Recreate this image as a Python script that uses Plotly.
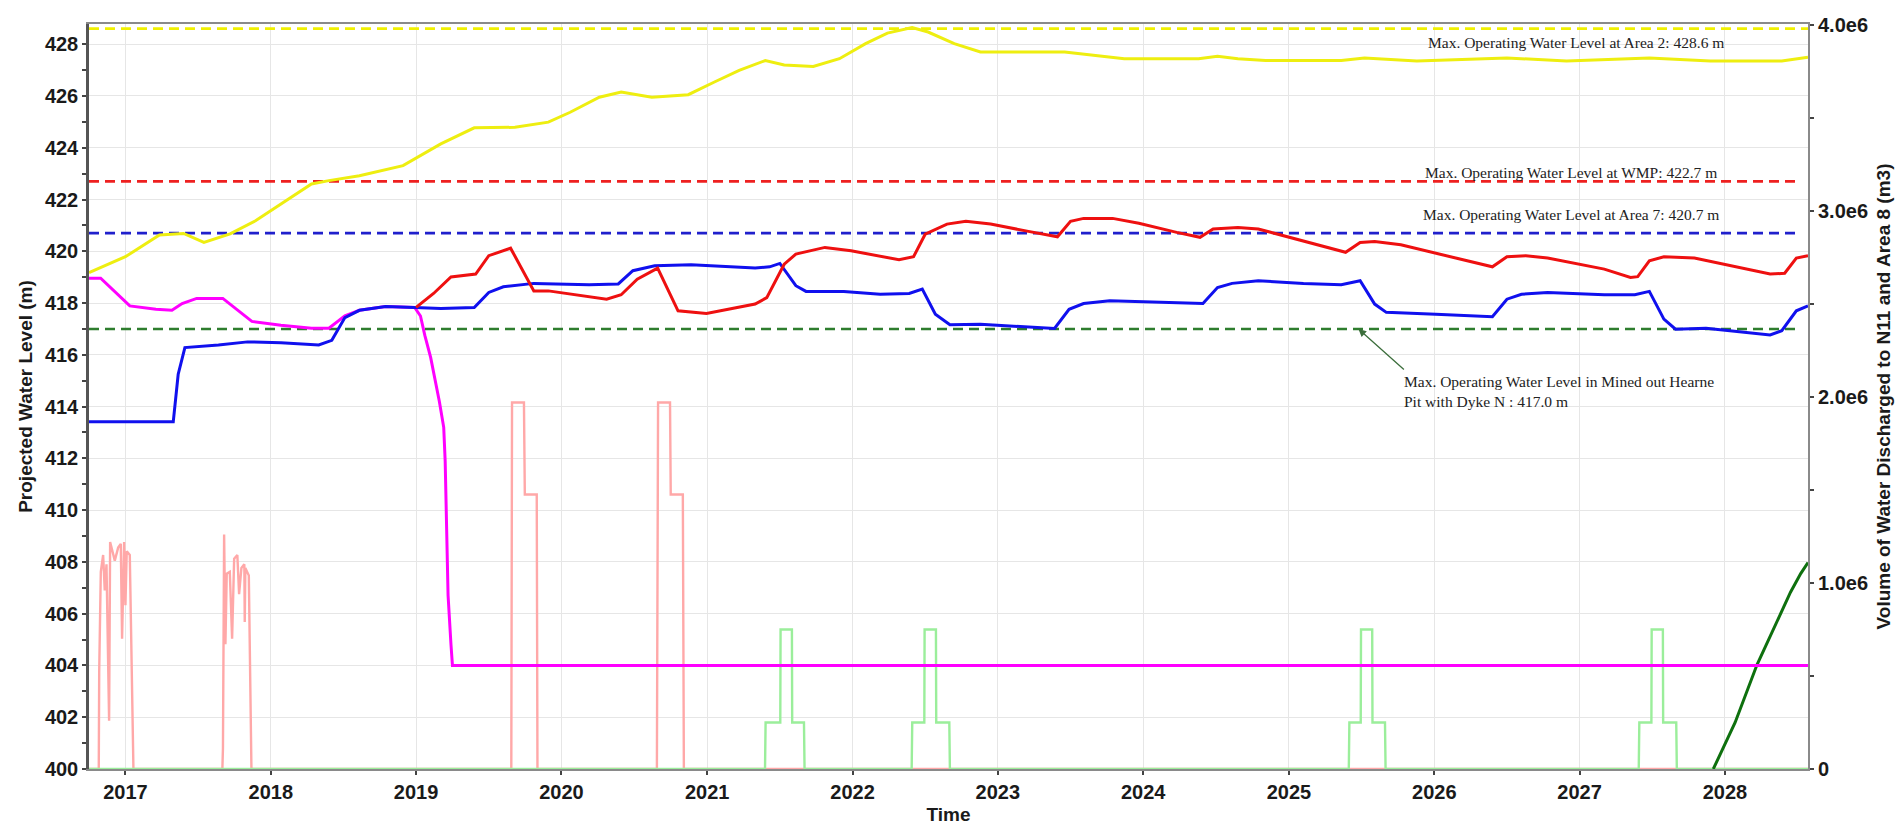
import plotly.graph_objects as go
import pandas as pd

# ---------------- data (x in decimal years) ----------------
yellow_t = [2016.75, 2016.878, 2017.0, 2017.234, 2017.40, 2017.54, 2017.72, 2017.895, 2018.07, 2018.28,
            2018.40, 2018.61, 2018.91, 2019.17, 2019.40, 2019.68, 2019.91, 2020.06, 2020.26, 2020.41,
            2020.62, 2020.87, 2021.05, 2021.22, 2021.40, 2021.53, 2021.73, 2021.91, 2022.09, 2022.24,
            2022.41, 2022.52, 2022.70, 2022.88, 2023.46, 2023.87, 2024.38, 2024.51, 2024.65, 2024.84,
            2025.36, 2025.52, 2025.88, 2026.50, 2026.91, 2027.48, 2027.90, 2028.39, 2028.57]
yellow_v = [419.18, 419.50, 419.79, 420.63, 420.69, 420.34, 420.67, 421.18, 421.83, 422.60,
            422.73, 422.92, 423.31, 424.15, 424.77, 424.79, 424.99, 425.37, 425.95, 426.15,
            425.95, 426.05, 426.54, 426.99, 427.37, 427.20, 427.14, 427.44, 428.02, 428.43,
            428.64, 428.47, 428.02, 427.70, 427.70, 427.44, 427.44, 427.53, 427.44, 427.37,
            427.37, 427.47, 427.35, 427.47, 427.35, 427.47, 427.35, 427.35, 427.50]

red_t = [2019.0, 2019.12, 2019.24, 2019.41, 2019.50, 2019.65, 2019.81, 2019.91, 2020.31, 2020.41,
         2020.52, 2020.66, 2020.80, 2020.995, 2021.33, 2021.41, 2021.53, 2021.61, 2021.81, 2021.99,
         2022.32, 2022.42, 2022.50, 2022.65, 2022.78, 2022.95, 2023.21, 2023.41, 2023.50, 2023.59,
         2023.79, 2023.97, 2024.23, 2024.39, 2024.48, 2024.65, 2024.79, 2025.10, 2025.39, 2025.49,
         2025.59, 2025.77, 2026.14, 2026.40, 2026.50, 2026.63, 2026.78, 2027.17, 2027.35, 2027.40,
         2027.48, 2027.58, 2027.79, 2028.08, 2028.31, 2028.41, 2028.49, 2028.57]
red_v = [417.83, 418.37, 419.01, 419.12, 419.83, 420.12, 418.47, 418.47, 418.15, 418.32,
         418.92, 419.35, 417.70, 417.60, 417.96, 418.21, 419.50, 419.89, 420.15, 420.02,
         419.67, 419.79, 420.66, 421.05, 421.16, 421.05, 420.77, 420.56, 421.16, 421.27,
         421.27, 421.08, 420.73, 420.54, 420.86, 420.92, 420.86, 420.41, 419.96, 420.34,
         420.38, 420.25, 419.76, 419.40, 419.79, 419.83, 419.74, 419.31, 418.99, 419.02,
         419.63, 419.79, 419.74, 419.38, 419.12, 419.15, 419.74, 419.83]

blue_t = [2016.75, 2017.329, 2017.363, 2017.409, 2017.64, 2017.84, 2018.07, 2018.33, 2018.42, 2018.51,
          2018.61, 2018.79, 2018.99, 2019.17, 2019.40, 2019.50, 2019.60, 2019.81, 2020.19, 2020.39,
          2020.49, 2020.64, 2020.89, 2021.33, 2021.43, 2021.50, 2021.61, 2021.68, 2021.94, 2022.19,
          2022.39, 2022.48, 2022.57, 2022.67, 2022.88, 2023.21, 2023.39, 2023.49, 2023.59, 2023.77,
          2023.97, 2024.41, 2024.51, 2024.61, 2024.79, 2025.10, 2025.36, 2025.49, 2025.59, 2025.67,
          2026.01, 2026.40, 2026.50, 2026.60, 2026.78, 2027.17, 2027.38, 2027.48, 2027.58, 2027.66,
          2027.87, 2028.21, 2028.31, 2028.39, 2028.49, 2028.57]
blue_v = [413.41, 413.41, 415.25, 416.28, 416.38, 416.50, 416.47, 416.38, 416.56, 417.44,
          417.72, 417.87, 417.83, 417.79, 417.83, 418.41, 418.63, 418.76, 418.71, 418.74,
          419.25, 419.44, 419.48, 419.35, 419.40, 419.53, 418.67, 418.45, 418.45, 418.34,
          418.37, 418.54, 417.57, 417.16, 417.18, 417.08, 417.02, 417.76, 417.98, 418.09,
          418.06, 417.98, 418.60, 418.76, 418.86, 418.76, 418.71, 418.86, 417.96, 417.64,
          417.57, 417.47, 418.15, 418.34, 418.41, 418.32, 418.32, 418.45, 417.38, 416.99,
          417.03, 416.82, 416.77, 416.93, 417.70, 417.89]

magenta_t = [2016.75, 2016.83, 2017.03, 2017.21, 2017.32, 2017.39, 2017.49, 2017.67, 2017.87, 2018.07,
             2018.28, 2018.40, 2018.51, 2018.61, 2018.79, 2018.99, 2019.03, 2019.06, 2019.10, 2019.13,
             2019.16, 2019.19, 2019.20, 2019.21, 2019.22, 2019.24, 2019.25, 2028.57]
magenta_v = [418.96, 418.96, 417.89, 417.76, 417.72, 417.98, 418.18, 418.18, 417.29, 417.14,
             417.03, 417.03, 417.51, 417.72, 417.87, 417.83, 417.50, 416.75, 415.90, 415.10,
             414.20, 413.20, 411.90, 409.30, 406.70, 404.80, 404.00, 404.00]

# volumes discharged (m3), right axis
pink_t = [2016.75, 2016.817, 2016.820, 2016.831, 2016.847, 2016.858, 2016.870, 2016.881, 2016.888, 2016.895,
          2016.909, 2016.927, 2016.950, 2016.968, 2016.977, 2016.991, 2017.000, 2017.009, 2017.030, 2017.041,
          2017.048, 2017.055,
          2017.667, 2017.671, 2017.679, 2017.688, 2017.697, 2017.718, 2017.734, 2017.748, 2017.770, 2017.782,
          2017.798, 2017.818, 2017.821, 2017.825, 2017.849, 2017.858, 2017.867,
          2019.655, 2019.657, 2019.660, 2019.742, 2019.744, 2019.748, 2019.830, 2019.832, 2019.835,
          2020.655, 2020.657, 2020.663, 2020.745, 2020.747, 2020.750, 2020.833, 2020.836, 2020.840,
          2028.57]
pink_v = [0, 0, 0.52e6, 1.06e6, 1.15e6, 0.96e6, 1.10e6, 0.51e6, 0.26e6, 1.22e6,
          1.17e6, 1.12e6, 1.19e6, 1.21e6, 0.70e6, 1.22e6, 0.88e6, 1.17e6, 1.15e6, 0.72e6,
          0.33e6, 0,
          0, 0.11e6, 1.26e6, 0.67e6, 1.05e6, 1.06e6, 0.70e6, 1.13e6, 1.15e6, 0.94e6,
          1.08e6, 1.10e6, 0.79e6, 1.08e6, 1.04e6, 0.51e6, 0,
          0, 0.99e6, 1.97e6, 1.97e6, 1.71e6, 1.475e6, 1.475e6, 0.72e6, 0,
          0, 0.99e6, 1.97e6, 1.97e6, 1.71e6, 1.475e6, 1.475e6, 0.72e6, 0,
          0]

lgreen_t = [2016.75,
            2021.398, 2021.402, 2021.503, 2021.505, 2021.583, 2021.585, 2021.666, 2021.670,
            2022.407, 2022.411, 2022.494, 2022.496, 2022.574, 2022.576, 2022.666, 2022.670,
            2025.412, 2025.416, 2025.494, 2025.496, 2025.573, 2025.575, 2025.661, 2025.665,
            2027.407, 2027.411, 2027.494, 2027.496, 2027.573, 2027.575, 2027.665, 2027.669,
            2028.57]
lgreen_v = [0,
            0, 0.25e6, 0.25e6, 0.75e6, 0.75e6, 0.25e6, 0.25e6, 0,
            0, 0.25e6, 0.25e6, 0.75e6, 0.75e6, 0.25e6, 0.25e6, 0,
            0, 0.25e6, 0.25e6, 0.75e6, 0.75e6, 0.25e6, 0.25e6, 0,
            0, 0.25e6, 0.25e6, 0.75e6, 0.75e6, 0.25e6, 0.25e6, 0,
            0]

dgreen_t = [2027.92, 2028.07, 2028.22, 2028.37, 2028.45, 2028.52, 2028.57]
dgreen_v = [0, 0.25e6, 0.56e6, 0.82e6, 0.95e6, 1.05e6, 1.11e6]

limit_levels = [428.6, 422.7, 420.7, 417.0]
limit_ends = [2028.57, 2028.49, 2028.52, 2028.49]
limit_colors = ["#F0F000", "#EE2020", "#2020CC", "#2E7D2E"]
limit_labels = ["Max. Operating Water Level at Area 2: 428.6 m",
                "Max. Operating Water Level at WMP: 422.7 m",
                "Max. Operating Water Level at Area 7: 420.7 m"]
label_pos_t = [2026.977, 2026.942, 2026.94]
label_pos_v = [428.05, 423.05, 421.43]

right_ticks = [0, 1.0e6, 2.0e6, 3.0e6, 4.0e6]
right_ticktext = ["0", "1.0e6", "2.0e6", "3.0e6", "4.0e6"]

X_START, X_END = 2016.75, 2028.57
LEVEL_RANGE = [400, 428.78]
VOLUME_RANGE = [0, 4.004e6]


def yr(t):
    y = int(t)
    s = pd.Timestamp(y, 1, 1)
    e = pd.Timestamp(y + 1, 1, 1)
    return s + (e - s) * (t - y)


def dates(ts):
    return [yr(t) for t in ts]


fig = go.Figure()

# volume traces (underlying axis y, right side)
fig.add_trace(go.Scatter(x=dates(pink_t), y=pink_v, mode="lines", yaxis="y",
                         line=dict(color="#FFA8A8", width=2.4)))
fig.add_trace(go.Scatter(x=dates(lgreen_t), y=lgreen_v, mode="lines", yaxis="y",
                         line=dict(color="#9BEE9B", width=2.4)))
fig.add_trace(go.Scatter(x=dates(dgreen_t), y=dgreen_v, mode="lines", yaxis="y",
                         line=dict(color="#0E700E", width=3)))

# limit dashed lines (level axis y2)
for lv, le, lc in zip(limit_levels, limit_ends, limit_colors):
    fig.add_trace(go.Scatter(x=dates([X_START, le]), y=[lv, lv], mode="lines", yaxis="y2",
                             line=dict(color=lc, width=2.6, dash="10px,6px")))

fig.add_trace(go.Scatter(x=dates(magenta_t), y=magenta_v, mode="lines", yaxis="y2",
                         line=dict(color="#FF00FF", width=3)))
fig.add_trace(go.Scatter(x=dates(blue_t), y=blue_v, mode="lines", yaxis="y2",
                         line=dict(color="#1010EE", width=3)))
fig.add_trace(go.Scatter(x=dates(red_t), y=red_v, mode="lines", yaxis="y2",
                         line=dict(color="#EE1010", width=3)))
fig.add_trace(go.Scatter(x=dates(yellow_t), y=yellow_v, mode="lines", yaxis="y2",
                         line=dict(color="#EEEE10", width=3)))

bold = dict(family="Liberation Sans, Arial, sans-serif", size=20, color="#1a1a1a", weight="bold")
title_font = dict(family="Liberation Sans, Arial, sans-serif", size=19, color="#1a1a1a", weight="bold")
serif = dict(family="Liberation Serif, Times New Roman, serif", size=15.5, color="#222222")

annotations = []
for txt, t, v in zip(limit_labels, label_pos_t, label_pos_v):
    annotations.append(dict(x=yr(t), y=v, xref="x", yref="y2", text=txt, showarrow=False,
                            xanchor="center", yanchor="middle", font=serif))
annotations.append(dict(x=yr(2025.478), y=417.0, xref="x", yref="y2", text="", showarrow=True,
                        ax=47, ay=42, arrowhead=2, arrowsize=1.2, arrowwidth=1.3,
                        arrowcolor="#3C6E3C", standoff=0, startstandoff=0))
annotations.append(dict(x=yr(2025.776), y=414.6, xref="x", yref="y2",
                        text="Max. Operating Water Level in Mined out Hearne<br>Pit with Dyke N : 417.0 m",
                        showarrow=False, xanchor="left", yanchor="middle", align="left", font=serif))

fig.update_layout(
    template="none",
    width=1904, height=829,
    margin=dict(l=81, r=104, t=16, b=68, autoexpand=False),
    plot_bgcolor="white", paper_bgcolor="white",
    showlegend=False,
    annotations=annotations,
    xaxis=dict(
        type="date", range=[yr(X_START), yr(X_END)], automargin=False,
        tick0="2017-01-01", dtick="M12", tickformat="%Y",
        showgrid=True, gridcolor="#E6E6E6", gridwidth=1.2,
        showline=True, linecolor="#8A8A8A", linewidth=2, mirror=True,
        ticks="outside", ticklen=4, tickcolor="#444", tickwidth=1.5,
        tickfont=bold, zeroline=False,
        title=dict(text="Time", font=title_font, standoff=6),
    ),
    yaxis=dict(
        side="right", range=VOLUME_RANGE, automargin=False,
        tickmode="array", tickvals=right_ticks, ticktext=right_ticktext,
        showgrid=False, zeroline=False,
        showline=True, linecolor="#8A8A8A", linewidth=2,
        ticks="outside", ticklen=4, tickcolor="#444", tickwidth=1.5,
        minor=dict(dtick=0.5e6, ticks="outside", ticklen=4, tickcolor="#444", showgrid=False),
        tickfont=bold,
        title=dict(text="Volume of Water Discharged to N11 and Area 8 (m3)", font=title_font, standoff=10),
    ),
    yaxis2=dict(
        overlaying="y", side="left", range=LEVEL_RANGE, automargin=False,
        tick0=400, dtick=2,
        showgrid=True, gridcolor="#E6E6E6", gridwidth=1.2, zeroline=False,
        showline=True, linecolor="#555555", linewidth=2.5,
        ticks="outside", ticklen=4, tickcolor="#444", tickwidth=1.5,
        minor=dict(dtick=1, ticks="outside", ticklen=4, tickcolor="#444", showgrid=False),
        tickfont=bold,
        title=dict(text="Projected Water Level (m)", font=title_font, standoff=8),
    ),
)

fig.write_html("out.html")
